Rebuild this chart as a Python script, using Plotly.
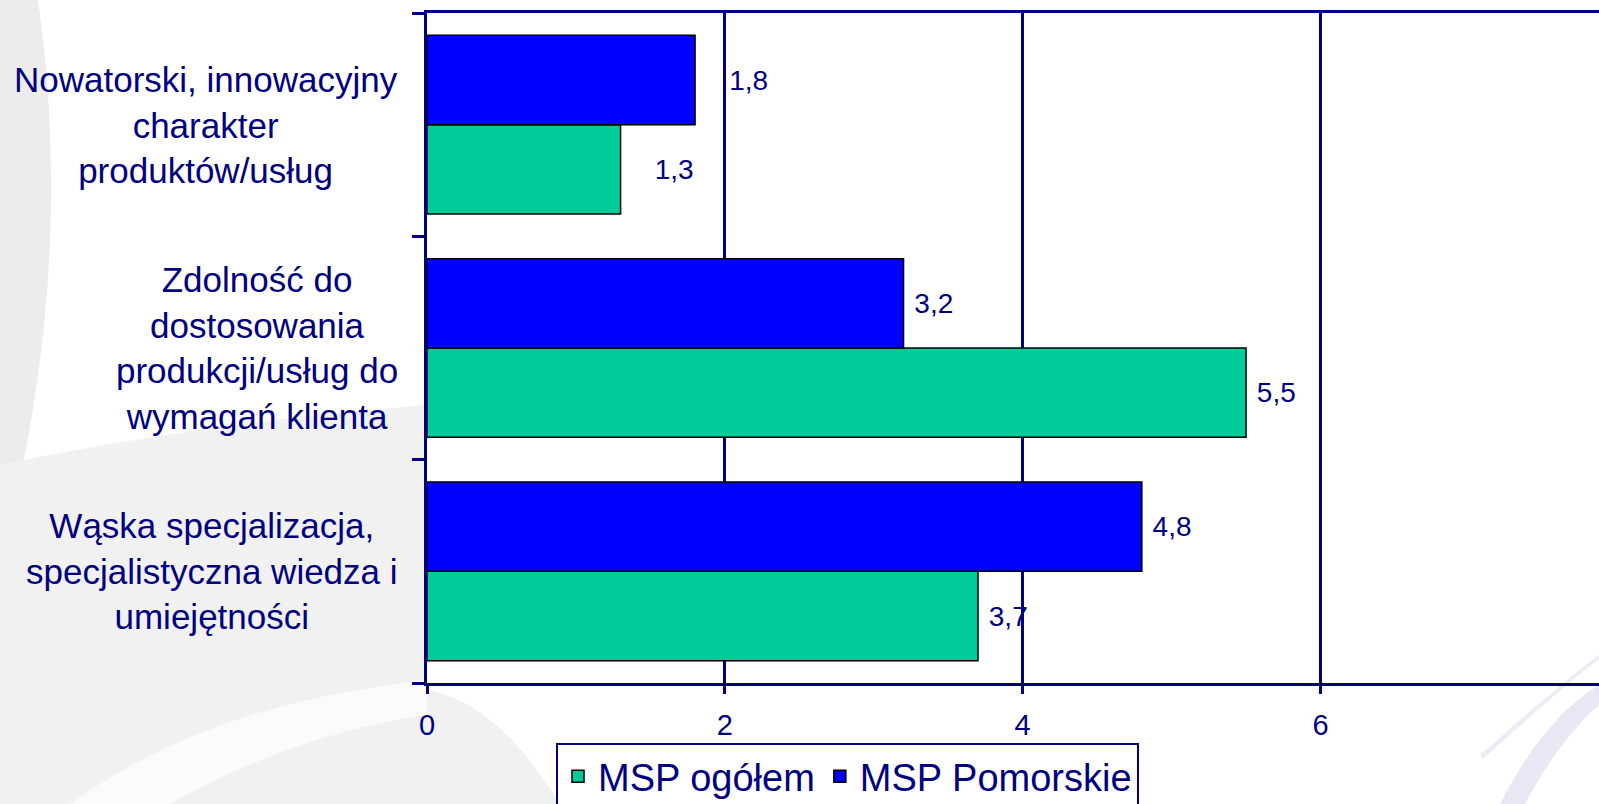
import plotly.graph_objects as go

# ---- data ----
category_keys = ["nowatorski", "zdolnosc", "waska"]  # top to bottom
category_labels = [
    "Nowatorski, innowacyjny<br>charakter<br>produktów/usług",
    "Zdolność do<br>dostosowania<br>produkcji/usług do<br>wymagań klienta",
    "Wąska specjalizacja,<br>specjalistyczna wiedza i<br>umiejętności",
]
series_names = ["MSP ogółem", "MSP Pomorskie"]
msp_ogolem = [1.3, 5.5, 3.7]
msp_pomorskie = [1.8, 3.2, 4.8]
x_ticks = [0, 2, 4, 6]
label_pad = [4, 1, 1]  # extra spacing (nbsp count) before value labels

NAVY = "#000080"
GREEN = "#00CC99"
BLUE = "#0000FF"
FONT = "Liberation Sans, Arial, sans-serif"

W, H = 1599, 804
ML, MR, MT, MB = 427, 0, 13, 121
PW, PH = W - ML - MR, H - MT - MB


def fmt(values):
    return ["\u00a0" * p + f"{v:.1f}".replace(".", ",") for v, p in zip(values, label_pad)]


def px(x, y):
    """pixel -> paper coordinates (decoration only)"""
    return (x - ML) / PW, (H - MB - y) / PH


def path(points_cmds):
    out = []
    for cmd, pts in points_cmds:
        coords = " ".join("%.4f,%.4f" % px(*p) for p in pts)
        out.append(cmd + coords)
    return " ".join(out) + " Z"


fig = go.Figure()
for name, vals, color in [
    (series_names[0], msp_ogolem, GREEN),
    (series_names[1], msp_pomorskie, BLUE),
]:
    fig.add_trace(
        go.Bar(
            name=name,
            y=category_keys,
            x=vals,
            orientation="h",
            marker=dict(color=color, line=dict(color="black", width=1.5)),
            text=fmt(vals),
            textposition="outside",
            textfont=dict(size=28, color=NAVY, family=FONT),
            constraintext="none",
            cliponaxis=False,
        )
    )

annotations = []
for key, lab in zip(category_keys, category_labels):
    annotations.append(
        dict(
            x=px(400, 0)[0], xref="paper", xanchor="right",
            y=key, yref="y", yanchor="middle",
            text=lab, showarrow=False, align="center",
            font=dict(size=35, color=NAVY, family=FONT),
        )
    )

# faint decorative background swooshes
deco = [
    ("#ececec", [("M", [(0, 0)]), ("L", [(38, 0)]), ("C", [(62, 170), (55, 360), (0, 560)])]),
    ("#f1f1f1", [("M", [(0, 465)]), ("C", [(140, 435), (300, 415), (427, 405)]),
                 ("L", [(427, 690)]), ("C", [(480, 700), (520, 740), (560, 804)]),
                 ("L", [(0, 804)])]),
    ("#fbfbfb", [("M", [(70, 804)]), ("C", [(180, 725), (300, 695), (427, 680)]),
                 ("L", [(427, 715)]), ("C", [(320, 730), (230, 770), (170, 804)])]),
    ("#e8e8f4", [("M", [(1500, 804)]), ("C", [(1530, 745), (1565, 705), (1599, 685)]),
                 ("L", [(1599, 705)]), ("C", [(1575, 725), (1545, 765), (1525, 804)])]),
    ("#ececf6", [("M", [(1480, 755)]), ("C", [(1520, 720), (1565, 680), (1599, 655)]),
                 ("L", [(1599, 659)]), ("C", [(1565, 685), (1522, 724), (1483, 759)])]),
]
shapes = [
    dict(type="path", xref="paper", yref="paper", path=path(cmds),
         fillcolor=col, line=dict(width=0), layer="below")
    for col, cmds in deco
]

fig.update_layout(
    width=W, height=H,
    margin=dict(l=ML, r=MR, t=MT, b=MB, autoexpand=False),
    paper_bgcolor="white",
    plot_bgcolor="rgba(0,0,0,0)",
    barmode="group",
    bargap=0.2,
    bargroupgap=0,
    font=dict(family=FONT, color=NAVY),
    showlegend=True,
    legend=dict(
        orientation="h",
        x=px(556, 0)[0], xanchor="left",
        y=px(0, 743)[1], yanchor="top",
        traceorder="normal",
        bgcolor="white",
        bordercolor=NAVY, borderwidth=2,
        font=dict(size=38, color=NAVY, family=FONT),
    ),
    annotations=annotations,
    shapes=shapes,
)

fig.update_xaxes(
    range=[0, 7.87],
    tickmode="array", tickvals=x_ticks, ticktext=[str(t) for t in x_ticks],
    showgrid=True, gridcolor=NAVY, gridwidth=2.5,
    zeroline=False,
    showline=True, linecolor=NAVY, linewidth=2.5, mirror=True,
    ticks="outside", ticklen=8, tickwidth=2.5, tickcolor=NAVY,
    tickfont=dict(size=29, color=NAVY, family=FONT),
    ticklabelstandoff=6,
)
fig.update_yaxes(
    categoryorder="array", categoryarray=category_keys[::-1],
    range=[-0.5, 2.5],
    showgrid=False, zeroline=False,
    showline=True, linecolor=NAVY, linewidth=2.5,
    ticks="outside", ticklen=12, tickwidth=2.5, tickcolor=NAVY,
    tickson="boundaries",
    showticklabels=False,
)

fig.write_html(
    "out.html",
    config={"displayModeBar": False},
    post_script="document.body.style.margin='0';document.body.style.overflow='hidden';",
)
